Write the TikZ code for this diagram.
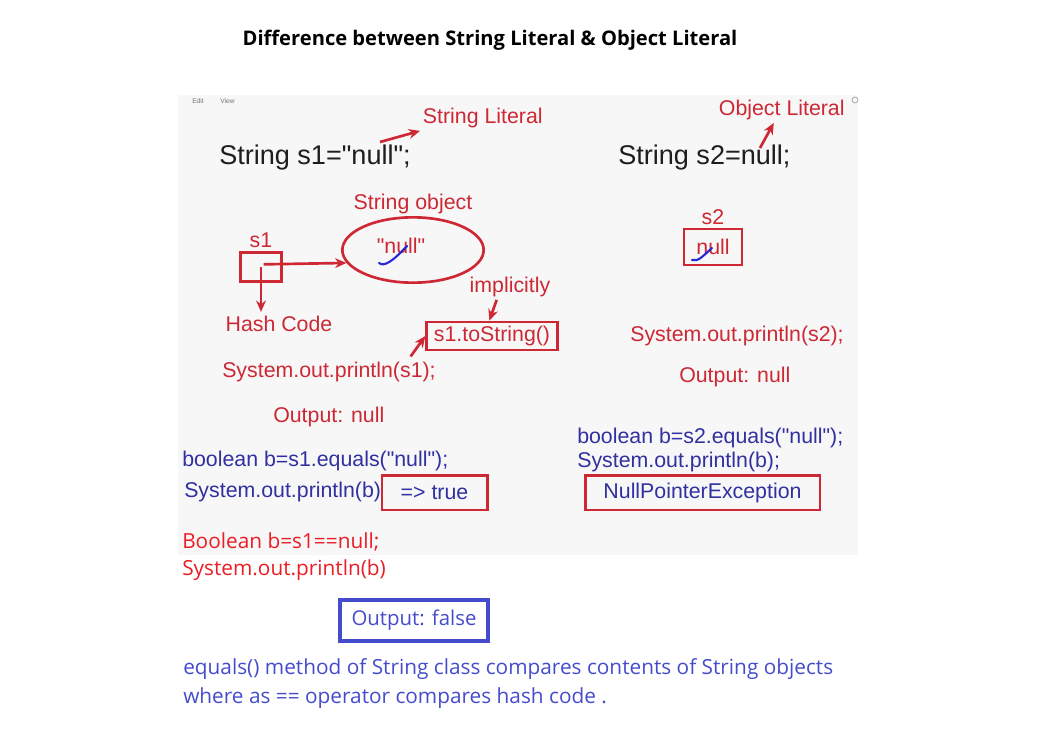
\documentclass[tikz,border=0pt]{standalone}
\usepackage{fontspec}
\setmainfont{Liberation Sans}[Ligatures=TeXOff]
\newfontfamily\uifont{Open Sans}
\usetikzlibrary{positioning, arrows.meta, shapes.geometric}

\definecolor{penred}{RGB}{205,40,52}
\definecolor{penblue}{RGB}{48,48,160}
\definecolor{inkblack}{RGB}{30,30,30}
\definecolor{notered}{RGB}{235,28,36}
\definecolor{noteblue}{RGB}{68,76,205}
\definecolor{checkblue}{RGB}{40,40,215}
\definecolor{panelgray}{RGB}{247,247,247}

\begin{document}
\begin{tikzpicture}[
			x=0.75pt, y=-0.75pt,
			big/.style={inner sep=0pt, anchor=west, font=\fontsize{20.3}{24}\selectfont, text=inkblack},
			code/.style={inner sep=0pt, anchor=west, font=\fontsize{16}{19}\selectfont, text=penred},
			bcode/.style={code, text=penblue},
			note/.style={inner sep=0pt, anchor=west, font=\uifont\fontsize{15.6}{18}\selectfont},
			box/.style={draw=penred, line width=2pt, inner sep=0pt, font=\fontsize{16}{19}\selectfont},
			arrow/.style={-{Stealth[length=3mm, width=2.6mm]}, line width=2pt, penred},
			tick/.style={checkblue, line width=1.6pt, line cap=round}
			]
			
			\useasboundingbox (0,0) rectangle (1039,740);
			
			% Title
			\node[font=\uifont\bfseries\fontsize{15.1}{18}\selectfont] (title) at (490,40) {Difference between String Literal \& Object Literal};
			
			% Screenshot panel
			\fill[panelgray] (178,95) rectangle (858,555);
			\node[inner sep=0pt, anchor=west, font=\fontsize{5}{6}\selectfont, text=black!55] (edit) at (192,101) {Edit};
			\node[inner sep=0pt, anchor=west, font=\fontsize{5}{6}\selectfont, text=black!55] (view) at (220,101) {View};
			\draw[black!35, line width=0.6pt] (855,100) circle (3);
			
			% Left column: string literal
			\node[big] (s1decl) at (219,157) {String s1="null";};
			\node[code, inner sep=2pt] (strlit) at (420,118) {String Literal};
			\coordinate (s1lit) at (380,142);
			
			\node[draw=penred, line width=2pt, ellipse, minimum width=106pt, minimum height=49pt] (strobj) at (413,250) {};
			\node[code, anchor=center] (litval) at (401,246) {"null"};
			\node[code, anchor=south, above=1pt of strobj] (objlbl) {String object};
			
			\node[draw=penred, line width=2pt, minimum width=31pt, minimum height=22pt] (refbox) at (261,267) {};
			\node[code, anchor=south, above=2pt of refbox] (s1lbl) {s1};
			\node[code, anchor=center, inner sep=3pt] (hash) at (279,324) {Hash Code};
			
			\node[code, anchor=center, inner sep=2pt] (implicit) at (510,287) {implicitly};
			\node[box, text=penred, minimum width=98pt, minimum height=21pt] (tostr) at (492,336) {s1.toString()};
			\node[code] (println1) at (222,372) {System.out.println(s1);};
			\node[code] (out1) at (273,417) {Output: null};
			
			\node[bcode] (eq1) at (182,461) {boolean b=s1.equals("null");};
			\node[bcode] (print1) at (184,492) {System.out.println(b)};
			\node[box, text=penblue, minimum width=79pt, minimum height=26pt] (truebox) at (434.5,492.5) {=> true\hspace{12pt}};
			
			% Right column: object literal
			\node[big] (s2decl) at (618,157) {String s2=null;};
			\node[code, inner sep=2pt] (objlit) at (716,110) {Object Literal};
			\coordinate (s2lit) at (760,148);
			
			\node[box, text=penred, minimum width=43.5pt, minimum height=27pt] (s2box) at (713,247) {null};
			\node[code, anchor=south, above=2pt of s2box] (s2lbl) {s2};
			
			\node[code] (println2) at (630,336) {System.out.println(s2);};
			\node[code] (out2) at (679,377) {Output: null};
			\node[bcode] (eq2) at (577,438) {boolean b=s2.equals("null");};
			\node[bcode] (print2) at (577,462) {System.out.println(b);};
			\node[box, text=penblue, minimum width=176pt, minimum height=26pt] (npe) at (702.5,492.5) {NullPointerException};
			
			% Notes below the panel
			\node[note, text=notered] (cmp) at (182,542) {Boolean b=s1==null;};
			\node[note, text=notered] (print3) at (182,570) {System.out.println(b)};
			\node[draw=noteblue, line width=3pt, minimum width=111pt, minimum height=31pt, inner sep=0pt, text=noteblue, font=\uifont\fontsize{15.3}{18}\selectfont] (falsebox) at (414,620.5) {Output: false};
			\node[note, text=noteblue] (rule1) at (183,669) {equals() method of String class compares contents of String objects};
			\node[note, text=noteblue] (rule2) at (183,698) {where as == operator compares hash code .};
			
			% Arrows
			\draw[arrow] (s1lit) -- (strlit.south west);
			\draw[arrow] (s2lit) -- ([xshift=-6pt]objlit.south);
			\draw[arrow] ([xshift=2pt, yshift=2pt]refbox.center) -- (strobj.191);
			\draw[arrow] (refbox.center) -- (refbox.center |- hash.north);
			\draw[arrow] ([xshift=-10pt]implicit.south) -- ([xshift=-2pt]tostr.north);
			\draw[arrow] ([xshift=-19pt, yshift=4pt]println1.north east) -- (tostr.west);
			
			% Pen ticks
			\draw[tick] (379,263) .. controls (384,267) and (392,262) .. (407,246);
			\draw[tick] (692,260) .. controls (698,262) and (703,256) .. (712,248);
			
		\end{tikzpicture}
\end{document}
